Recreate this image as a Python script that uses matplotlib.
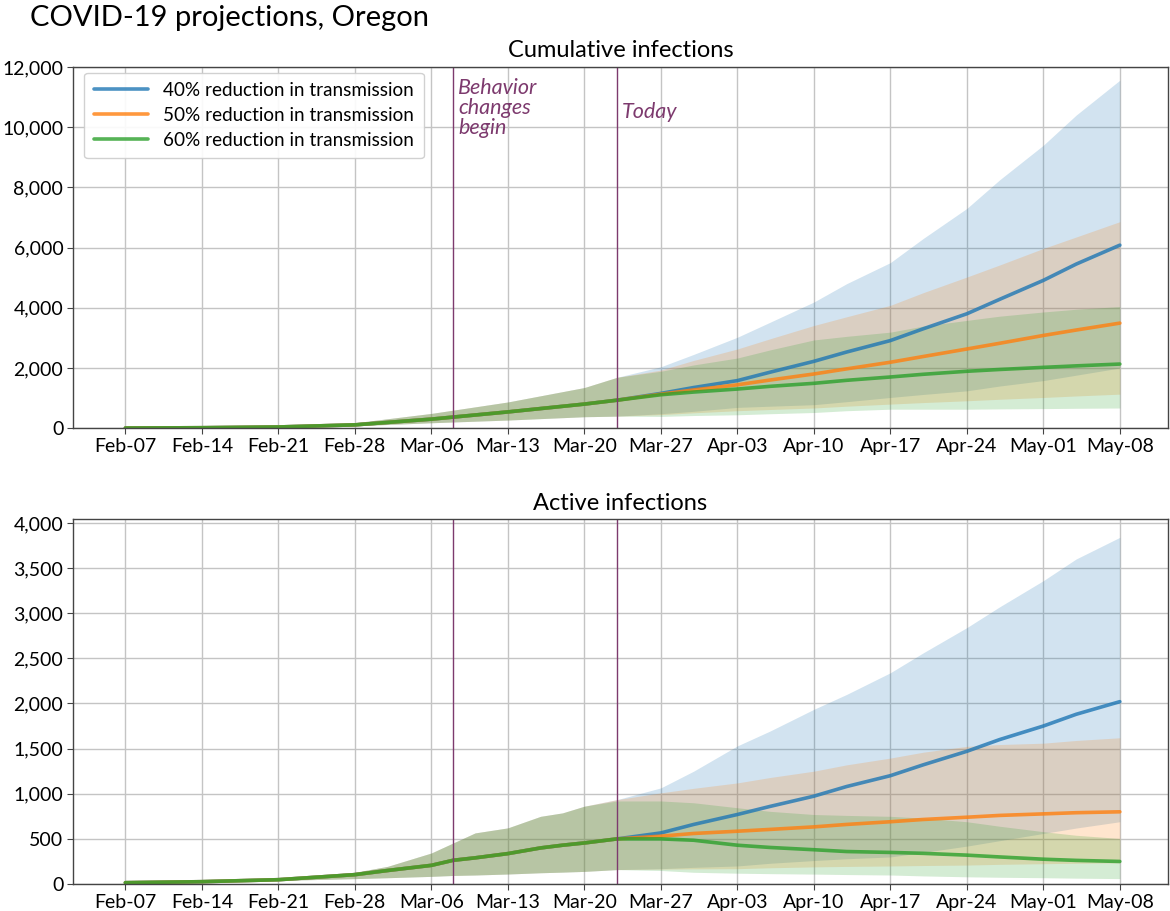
import numpy as np
import matplotlib
matplotlib.use("Agg")
import matplotlib.pyplot as plt
import matplotlib.dates as mdates
from matplotlib.ticker import FuncFormatter

plt.rcParams['font.family'] = ['Lato', 'DejaVu Sans']

# ---------------- data ----------------
start = np.datetime64('2020-02-07')
tick_days = [0, 7, 14, 21, 28, 35, 42, 49, 56, 63, 70, 77, 84, 91]
behavior_day = 30
today_day = 45
series_labels = ['40% reduction in transmission',
                 '50% reduction in transmission',
                 '60% reduction in transmission']

# Cumulative infections -- shared history (until today)
cum_pre_days = [0, 7, 14, 21, 28, 35, 42]
cum_pre_line = [5, 15, 40, 110, 300, 540, 800]
cum_pre_hi = [5, 20, 60, 180, 490, 870, 1350]
cum_pre_lo = [5, 12, 30, 80, 180, 270, 380]

# projections (from today)
proj_days = [45, 49, 52, 56, 59, 63, 66, 70, 73, 77, 80, 84, 87, 91]
cum40_line = [930, 1155, 1350, 1580, 1860, 2220, 2530, 2910, 3300, 3800, 4280, 4910, 5450, 6080]
cum40_hi = [1690, 2040, 2450, 3020, 3520, 4190, 4800, 5500, 6300, 7300, 8250, 9400, 10400, 11560]
cum40_lo = [400, 480, 560, 690, 730, 780, 880, 1020, 1120, 1240, 1400, 1580, 1760, 2000]
cum50_line = [930, 1130, 1270, 1440, 1600, 1800, 1970, 2190, 2380, 2630, 2820, 3080, 3260, 3490]
cum50_hi = [1690, 1930, 2250, 2630, 2970, 3410, 3700, 4080, 4500, 5020, 5420, 5970, 6350, 6860]
cum50_lo = [400, 450, 510, 580, 620, 670, 730, 800, 850, 910, 960, 1020, 1070, 1130]
cum60_line = [930, 1110, 1200, 1300, 1390, 1490, 1590, 1700, 1790, 1890, 1950, 2020, 2070, 2130]
cum60_hi = [1690, 1890, 2100, 2330, 2600, 2930, 3050, 3190, 3390, 3580, 3720, 3860, 3950, 4040]
cum60_lo = [400, 390, 420, 445, 480, 520, 580, 630, 630, 630, 640, 650, 660, 670]

# Active infections -- shared history
act_pre_days = [0, 7, 14, 21, 24, 28, 30, 32, 35, 38, 40, 42]
act_pre_line = [15, 26, 48, 104, 150, 207, 263, 290, 337, 400, 430, 455]
act_pre_hi = [15, 26, 55, 130, 196, 344, 455, 566, 622, 750, 788, 862]
act_pre_lo = [15, 22, 40, 60, 70, 85, 95, 100, 111, 125, 132, 140]

act40_line = [500, 566, 660, 770, 860, 973, 1080, 1200, 1320, 1470, 1600, 1750, 1880, 2020]
act40_hi = [935, 1065, 1250, 1530, 1695, 1935, 2100, 2340, 2560, 2840, 3070, 3360, 3600, 3840]
act40_lo = [160, 170, 185, 200, 230, 260, 280, 300, 350, 420, 480, 560, 620, 690]
act50_line = [500, 530, 560, 585, 605, 633, 660, 690, 715, 740, 760, 777, 790, 800]
act50_hi = [935, 1010, 1060, 1120, 1180, 1250, 1320, 1395, 1460, 1525, 1545, 1560, 1590, 1620]
act50_lo = [160, 165, 168, 170, 180, 190, 195, 200, 205, 210, 218, 225, 230, 235]
act60_line = [500, 500, 485, 430, 405, 380, 360, 350, 340, 320, 300, 275, 262, 250]
act60_hi = [920, 920, 900, 845, 805, 770, 760, 750, 730, 690, 640, 580, 540, 505]
act60_lo = [160, 150, 130, 120, 115, 110, 105, 100, 90, 80, 75, 70, 65, 60]

# ---------------- figure ----------------
colors = ['#1f77b4', '#ff7f0e', '#2ca02c']
ann_color = '#7d3a6e'
fig = plt.figure(figsize=(11.70, 9.11), dpi=100)
ax1 = fig.add_axes([0.0624, 0.530, 0.9356, 0.3965])
ax2 = fig.add_axes([0.0624, 0.0296, 0.9356, 0.4004])


def to_dates(days):
    return start + np.array(days).astype('timedelta64[D]')


def draw(ax, pre_days, pre_line, pre_hi, pre_lo, scen, ymax, title):
    for i, (line, hi, lo) in enumerate(scen):
        d = to_dates(list(pre_days) + list(proj_days))
        ax.fill_between(d, list(pre_lo) + list(lo), list(pre_hi) + list(hi),
                        color=colors[i], alpha=0.2, linewidth=0)
    for i, (line, hi, lo) in enumerate(scen):
        d = to_dates(list(pre_days) + list(proj_days))
        ax.plot(d, list(pre_line) + list(line), color=colors[i], alpha=0.8,
                lw=2.6, label=series_labels[i], solid_capstyle='round')
    ax.axvline(to_dates([behavior_day])[0], color=ann_color, lw=1.0)
    ax.axvline(to_dates([today_day])[0], color=ann_color, lw=1.0)
    ax.set_ylim(0, ymax)
    ax.set_xlim(to_dates([0])[0] - np.timedelta64(115, 'h'),
                to_dates([91])[0] + np.timedelta64(105, 'h'))
    ax.set_xticks(to_dates(tick_days))
    ax.xaxis.set_major_formatter(mdates.DateFormatter('%b-%d'))
    ax.yaxis.set_major_formatter(FuncFormatter(lambda v, p: f'{int(v):,}'))
    ax.grid(True, color='#c4c4c4', lw=1.0)
    ax.set_axisbelow(True)
    ax.tick_params(labelsize=14, length=4, color='#444444', pad=3)
    for s in ax.spines.values():
        s.set_color('#444444')
        s.set_linewidth(1.0)
    ax.set_title(title, fontsize=17, pad=7)


draw(ax1, cum_pre_days, cum_pre_line, cum_pre_hi, cum_pre_lo,
     [(cum40_line, cum40_hi, cum40_lo), (cum50_line, cum50_hi, cum50_lo),
      (cum60_line, cum60_hi, cum60_lo)], 12000, 'Cumulative infections')
draw(ax2, act_pre_days, act_pre_line, act_pre_hi, act_pre_lo,
     [(act40_line, act40_hi, act40_lo), (act50_line, act50_hi, act50_lo),
      (act60_line, act60_hi, act60_lo)], 4040, 'Active infections')
ax1.set_yticks(range(0, 12001, 2000))
ax2.set_yticks(range(0, 4001, 500))

leg = ax1.legend(loc='upper left', fontsize=13.6, frameon=True, fancybox=True,
                 handlelength=2.9, borderpad=0.5, labelspacing=0.42,
                 handletextpad=0.8, edgecolor='#cccccc', framealpha=0.9,
                 borderaxespad=0.3, bbox_to_anchor=(0.005, 1.0))

ax1.text(to_dates([behavior_day])[0] + np.timedelta64(11, 'h'), 11620,
         'Behavior\nchanges\nbegin', color=ann_color, fontsize=15.5,
         style='italic', va='top', ha='left', linespacing=1.0)
ax1.text(to_dates([today_day])[0] + np.timedelta64(11, 'h'), 10500,
         'Today', color=ann_color, fontsize=15.5, style='italic',
         va='center', ha='left')

fig.text(0.026, 0.980, 'COVID-19 projections, Oregon', fontsize=21,
         va='center', ha='left')

fig.savefig('out.png', dpi=100)
